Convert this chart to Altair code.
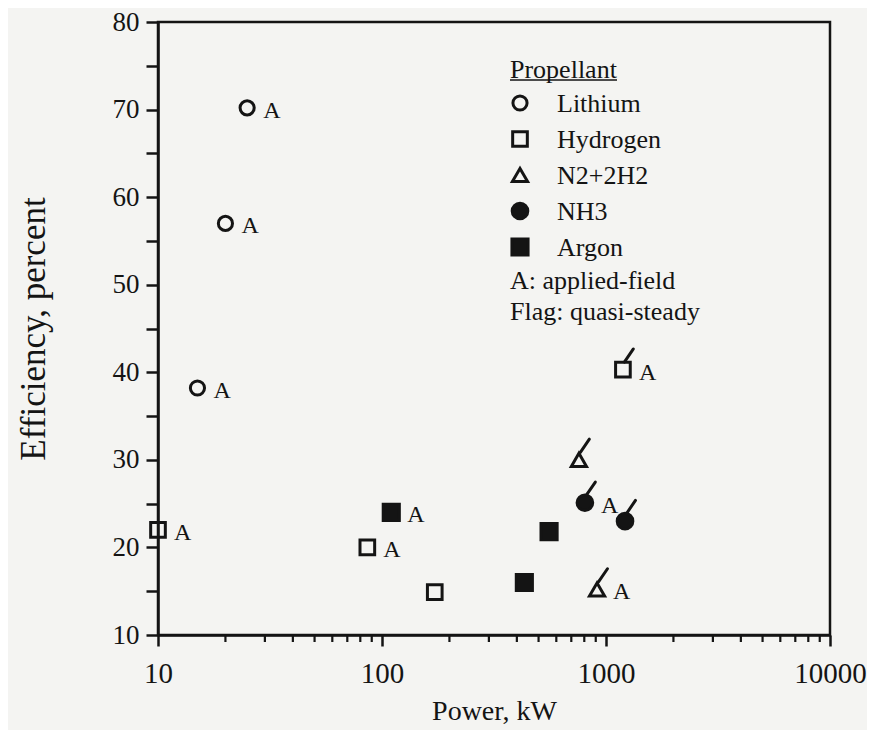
import altair as alt
import pandas as pd

# ---- data ----
propellant = ["Lithium", "Lithium", "Lithium",
              "Hydrogen", "Hydrogen", "Hydrogen", "Hydrogen",
              "N2+2H2", "N2+2H2",
              "NH3", "NH3",
              "Argon", "Argon", "Argon"]
power_kw = [25, 20, 15,
            10, 86, 172, 1190,
            757, 912,
            805, 1216,
            110, 557, 432]
efficiency = [70.2, 57.0, 38.2,
              22.0, 20.0, 14.9, 40.3,
              30.0, 15.2,
              25.1, 23.0,
              24.0, 21.8, 16.0]
applied_field = [True, True, True,
                 True, True, False, True,
                 False, True,
                 True, False,
                 True, False, False]
quasi_steady = [False, False, False,
                False, False, False, True,
                True, True,
                True, True,
                False, False, False]

legend_order = ["Lithium", "Hydrogen", "N2+2H2", "NH3", "Argon"]
legend_notes = ["A: applied-field", "Flag: quasi-steady"]
x_major = [10, 100, 1000, 10000]
x_minor = [20, 30, 40, 50, 60, 70, 80, 90,
           200, 300, 400, 500, 600, 700, 800, 900,
           2000, 3000, 4000, 5000, 6000, 7000, 8000, 9000]
y_ticks = list(range(10, 81, 5))

INK = "#141414"
BG = "#f4f4f2"
FONT = "Liberation Serif"
W, H = 672, 613

df = pd.DataFrame({
    "propellant": propellant,
    "power": power_kw,
    "eff": efficiency,
    "applied": applied_field,
    "flag": quasi_steady,
})

shape_scale = alt.Scale(domain=legend_order,
                        range=["circle", "square", "triangle-up", "circle", "square"])
fill_scale = alt.Scale(domain=legend_order,
                       range=["transparent", "transparent", "transparent", INK, INK])
size_scale = alt.Scale(domain=legend_order, range=[200, 260, 310, 390, 310])

xenc = alt.X("power:Q",
             scale=alt.Scale(type="log", domain=[10, 10000], nice=False),
             axis=alt.Axis(values=x_major, format="d", title="Power, kW",
                           labelFont=FONT, labelFontSize=29, labelColor=INK,
                           labelPadding=13, tickSize=11, tickWidth=2.5,
                           tickColor=INK, domainColor=INK, domainWidth=2.5,
                           grid=False, labelFlush=False,
                           titleFont=FONT, titleFontSize=28, titleFontWeight="normal",
                           titleColor=INK, titleX=W / 2, titleY=76,
                           titleBaseline="middle"))
yenc = alt.Y("eff:Q",
             scale=alt.Scale(domain=[10, 80], nice=False, zero=False),
             axis=alt.Axis(values=y_ticks,
                           labelExpr="datum.value % 10 == 0 ? datum.label : ''",
                           title="Efficiency, percent",
                           labelFont=FONT, labelFontSize=27, labelColor=INK,
                           labelPadding=7, tickSize=12, tickWidth=2.5,
                           tickColor=INK, domainColor=INK, domainWidth=2.5,
                           grid=False, labelFlush=False,
                           titleFont=FONT, titleFontSize=35, titleFontWeight="normal",
                           titleColor=INK, titleX=-125, titleY=H / 2,
                           titleBaseline="middle", titleAngle=-90))

base = alt.Chart(df)

points = base.mark_point(opacity=1, stroke=INK, strokeWidth=3).encode(
    x=xenc, y=yenc,
    shape=alt.Shape("propellant:N", scale=shape_scale, legend=None),
    fill=alt.Fill("propellant:N", scale=fill_scale, legend=None),
    size=alt.Size("propellant:N", scale=size_scale, legend=None),
)

flags = base.transform_filter("datum.flag").mark_point(
    shape="M0.08,-0.42L0.58,-1.15", size=1296, filled=False, opacity=1,
    stroke=INK, strokeWidth=3, strokeCap="round").encode(
    x="power:Q", y="eff:Q")

alabels = base.transform_filter("datum.applied").mark_text(
    text="A", align="left", baseline="middle", dx=16, dy=3,
    font=FONT, fontSize=24, color=INK).encode(x="power:Q", y="eff:Q")

minor = alt.Chart(pd.DataFrame({"power": x_minor})).mark_rule(
    color=INK, strokeWidth=2.2).encode(
    x="power:Q", y=alt.value(H), y2=alt.value(H + 7))

# ---- legend drawn inside the plot ----
LX, TX, ROW0, STEP = 362, 399, 81, 36
leg = pd.DataFrame({"propellant": legend_order})
leg["ypix"] = [ROW0 + i * STEP for i in range(len(legend_order))]
leg["typix"] = leg["ypix"] + 9

leg_sym = alt.Chart(leg).mark_point(opacity=1, stroke=INK, strokeWidth=3).encode(
    x=alt.value(LX),
    y=alt.Y("ypix:Q", scale=None, axis=None),
    shape=alt.Shape("propellant:N", scale=shape_scale, legend=None),
    fill=alt.Fill("propellant:N", scale=fill_scale, legend=None),
    size=alt.Size("propellant:N", scale=size_scale, legend=None),
)
leg_txt = alt.Chart(leg).mark_text(align="left", baseline="alphabetic",
                                   font=FONT, fontSize=26, color=INK).encode(
    x=alt.value(TX), y=alt.Y("typix:Q", scale=None, axis=None), text="propellant:N")

notes = pd.DataFrame({"note": legend_notes})
last = ROW0 + (len(legend_order) - 1) * STEP
notes["ypix"] = [last + 34 + i * 31 for i in range(len(legend_notes))]
notes_txt = alt.Chart(notes).mark_text(align="left", baseline="middle",
                                       font=FONT, fontSize=26, color=INK).encode(
    x=alt.value(352), y=alt.Y("ypix:Q", scale=None, axis=None), text="note:N")

title_df = pd.DataFrame({"t": ["Propellant"]})
leg_title = alt.Chart(title_df).mark_text(align="left", baseline="alphabetic",
                                          font=FONT, fontSize=26, color=INK).encode(
    x=alt.value(352), y=alt.value(56), text="t:N")
underline = alt.Chart(title_df).mark_rule(color=INK, strokeWidth=1.6).encode(
    x=alt.value(352), x2=alt.value(459), y=alt.value(58))

chart = alt.layer(
    minor, points, flags, alabels, leg_sym, leg_txt, notes_txt, leg_title, underline
).properties(
    width=W, height=H,
    autosize=alt.AutoSizeParams(type="none"),
    padding={"left": 150, "top": 14, "right": 37, "bottom": 95},
    background=BG,
).configure_view(stroke=INK, strokeWidth=2.5)

chart.save("out.html", embed_options={"renderer": "svg", "actions": False})
